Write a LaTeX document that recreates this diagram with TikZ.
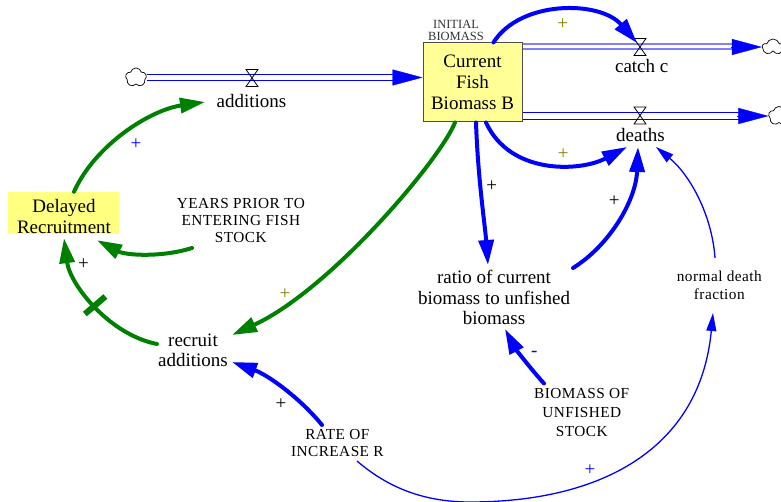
\documentclass[tikz,border=0pt]{standalone}
\usepackage{fontspec}
\setmainfont{Liberation Serif}
\usetikzlibrary{arrows.meta,shapes.symbols}
\definecolor{stockfill}{RGB}{255,255,150}
\definecolor{delayfill}{RGB}{255,255,128}
\definecolor{linkgreen}{RGB}{0,128,0}
\definecolor{signolive}{RGB}{128,128,0}
\definecolor{pipelight}{RGB}{128,128,255}

\begin{document}
\begin{tikzpicture}[x=1pt,y=-1pt,
  every node/.style={inner sep=0pt},
  bigtext/.style={font=\fontsize{19}{20.7}\selectfont, align=center},
  captext/.style={font=\fontsize{15.3}{#1}\selectfont\addfontfeature{LetterSpace=3}, align=center},
  captext/.default=18,
  stockbox/.style={bigtext, draw=black!70, line width=1pt, fill=stockfill,
    minimum width=99pt, minimum height=79pt},
  delaybox/.style={fill=delayfill, minimum width=111pt, minimum height=42pt},
  source/.style={cloud, cloud puffs=5, cloud puff arc=150, aspect=1.1,
    draw=black, line width=0.7pt, fill=white, minimum width=21pt, minimum height=19pt},
  valve/.style={minimum width=11.5pt, minimum height=16.5pt},
  valveline/.style={draw=black, line width=0.8pt},
  pipe/.style={draw=blue, line width=1pt, double=white, double distance=4.7pt},
  pipetip/.style={blue, line width=0.4pt, -{Triangle[length=30pt,width=16pt]}},
  link/.style={draw=blue, line width=4pt, line cap=round,
    -{Triangle[length=25pt,width=15pt]}},
  greenlink/.style={link, draw=linkgreen},
  thinlink/.style={draw=blue, line width=1.3pt, -{Triangle[length=18pt,width=10pt]}},
  sign/.style={font=\fontsize{19}{19}\selectfont},
]
\useasboundingbox (0,0) rectangle (781,502);

% ---------- stock, auxiliaries and labels ----------
\node[stockbox] (stock) at (472.5,82.5) {Current\\Fish\\Biomass B};
\node[font=\fontsize{12.5}{12.4}\selectfont, align=center, text=black!80]
  (initial) at (456,30.3) {INITIAL\\BIOMASS};
\node[delaybox] (delayed) at (63.5,213) {};
\node[bigtext] (delayedtext) at (64,216.8) {Delayed\\Recruitment};
\node[bigtext, anchor=base] (additions) at (251.5,108) {additions};
\node[bigtext, anchor=base] (catch) at (641.7,72.7) {catch c};
\node[bigtext, anchor=base] (deaths) at (640.5,141.7) {deaths};
\node[captext=17] (years) at (240.8,220.5) {YEARS PRIOR TO\\ENTERING FISH\\STOCK};
\node[bigtext] (recruit) at (193,350.4) {recruit\\additions};
\node[bigtext] (ratio) at (494,297.6) {ratio of current\\biomass to unfished\\biomass};
\node[captext=18.3] (normal) at (719.3,285.4) {normal death\\fraction};
\node[captext=19.2] (unfished) at (581.7,412.7) {BIOMASS OF\\UNFISHED\\STOCK};
\node[captext=17.4] (rate) at (337.3,443.2) {RATE OF\\INCREASE R};

% ---------- clouds and valves ----------
\node[source] (srcAdd) at (136,77.5) {};
\node[source, minimum height=16pt] (sinkCatch) at (773,47) {};
\node[source] (sinkDeath) at (779,116) {};
\node[valve] (vAdd) at (252,78) {};
\node[valve] (vCatch) at (640,47) {};
\node[valve] (vDeath) at (640,115.5) {};

\coordinate (addEnd) at (srcAdd.east -| stock.west);
\coordinate (catchStart) at (sinkCatch.west -| stock.east);
\coordinate (deathStart) at (sinkDeath.west -| stock.east);

% ---------- flow pipes ----------
\draw[pipe, shorten >=26pt] (srcAdd.east) -- (addEnd);
\draw[pipetip] ([shift={(-30,0)}]addEnd) -- (addEnd);
\draw[pipe, draw=pipelight, line width=2pt, double distance=3pt, shorten >=26pt]
  (catchStart) -- (sinkCatch.west);
\draw[pipetip] ([shift={(-31,0)}]sinkCatch.west) -- (sinkCatch.west);
\draw[pipe, double distance=6pt, shorten >=26pt] (deathStart) -- (sinkDeath.west);
\draw[pipetip] ([shift={(-31,0)}]sinkDeath.west) -- (sinkDeath.west);

\foreach \v in {vAdd,vCatch,vDeath}
  \draw[valveline] (\v.north west) -- (\v.north east) -- (\v.south west)
    -- (\v.south east) -- cycle;

% ---------- causal links ----------
\draw[link] ([shift={(21,0)}]stock.north) .. controls (520,0) and (600,0)
  .. ([shift={(-3,-4)}]vCatch.center);
\draw[link] ([shift={(13.5,0)}]stock.south) .. controls (510,175) and (580,172)
  .. ([shift={(-13.5,5.3)}]deaths.base);
\draw[link] ([shift={(3.5,0)}]stock.south) .. controls (478,180) and (485,225)
  .. ([shift={(-6,-32.6)}]ratio.center);
\draw[greenlink] ([shift={(-17.5,0)}]stock.south) .. controls (440,160) and (330,290)
  .. ([shift={(39,-15.4)}]recruit.center);
\draw[link] ([shift={(79,-29.6)}]ratio.center) .. controls (610,245) and (636,200)
  .. ([shift={(-2.5,5.3)}]deaths.base);
\draw[thinlink] ([shift={(-4.3,-27.4)}]normal.center) .. controls (712,215) and (690,175)
  .. ([shift={(15.5,5.3)}]deaths.base);
\draw[link] ([shift={(-37.7,-29.2)}]unfished.center) .. controls (530,368) and (515,348)
  .. ([shift={(11,31.4)}]ratio.center);
\draw[link] ([shift={(-15.3,-18.2)}]rate.center) .. controls (300,398) and (268,375)
  .. ([shift={(39,11.6)}]recruit.center);
\draw[thinlink] ([shift={(19.7,17.8)}]rate.center) .. controls (385,485) and (420,502)
  .. (470,502) .. controls (600,502) and (700,450)
  .. ([shift={(-6.3,27.6)}]normal.center);
\draw[greenlink] ([shift={(10.5,0)}]delayed.north) .. controls (95,145) and (150,110)
  .. ([shift={(-46.5,-6)}]additions.base);
\draw[greenlink] ([shift={(-48.8,27.5)}]years.center) .. controls (160,258) and (125,255)
  .. ([shift={(33.5,6)}]delayed.south);
\draw[greenlink] ([shift={(-36,-6.4)}]recruit.center) .. controls (110,335) and (70,285)
  .. node[sloped, pos=0.5, fill=linkgreen, minimum width=6pt, minimum height=27pt]
     (delaymark) {}
  ([shift={(0.5,4)}]delayed.south);

% ---------- polarity signs ----------
\node[sign, text=signolive] (p1) at (562.7,24.3) {+};
\node[sign, text=signolive] (p2) at (563.3,154.3) {+};
\node[sign] (p3) at (491.7,186) {+};
\node[sign, text=signolive] (p4) at (285,294) {+};
\node[sign] (p5) at (614.3,200.7) {+};
\node[sign, text=blue] (p6) at (534.3,354) {-};
\node[sign] (p7) at (281,404) {+};
\node[sign, text=blue] (p8) at (590,470) {+};
\node[sign, text=blue] (p9) at (136,144) {+};
\node[sign] (p10) at (83.5,264.3) {+};
\end{tikzpicture}
\end{document}
